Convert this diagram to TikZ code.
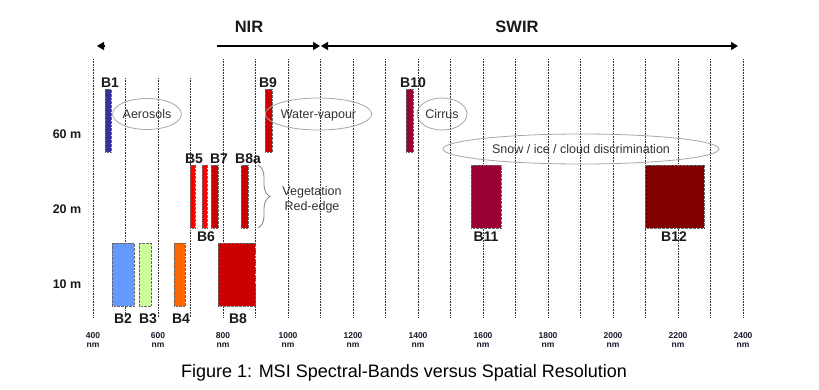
\documentclass[tikz,border=0pt]{standalone}
\usepackage{fontspec}
\setmainfont{Liberation Sans}
\usetikzlibrary{arrows.meta,shapes.geometric,decorations.pathreplacing}
\definecolor{navyb}{HTML}{333399}
\definecolor{blueb}{HTML}{6699FF}
\definecolor{greenb}{HTML}{CCFF99}
\definecolor{orangeb}{HTML}{FF6600}
\definecolor{redb}{HTML}{CC0000}
\definecolor{brightb}{HTML}{FF0000}
\definecolor{wineb}{HTML}{990033}
\definecolor{maroonb}{HTML}{800000}
\definecolor{inkb}{HTML}{1A1A2E}
\tikzset{sc/.style={x=1pt,y=-1pt,line width=.5pt},
  grid/.style={black!80,line width=.55pt,dash pattern=on .8pt off .8pt},
  band/.style={draw=black!60,line width=.35pt,densely dotted},
  lbl/.style={font=\bfseries\fontsize{14}{16}\selectfont,anchor=base,inner sep=0pt,text=black!90},
  zone/.style={draw=black!35,line width=.8pt,ellipse,inner sep=0pt,font=\fontsize{12.5}{15}\selectfont,text=black!80,text depth=0pt},
  tip/.style={line width=1.2pt,-{Triangle[length=7pt,width=8pt]}}}

\begin{document}
\begin{tikzpicture}[sc]
  \useasboundingbox (0,0) rectangle (819,389);
  % grid, one line each 100 nm
  \foreach \i in {0,4,5,...,20}{\draw[grid] (93+32.5*\i,59)--(93+32.5*\i,317);}
  \foreach \i in {1,2,3}{\draw[grid] (93+32.5*\i,78)--(93+32.5*\i,317);}
  \foreach \w [count=\k from 0] in {400,600,...,2400}{
    \node[anchor=base,inner sep=0pt,inkb,font=\bfseries\fontsize{8.5}{9}\selectfont] (tick\w) at (93+65*\k,338){\w};
    \node[anchor=base,inner sep=0pt,inkb,font=\bfseries\fontsize{8.5}{9}\selectfont] (unit\w) at (93+65*\k,347.5){nm};}
  % ranges
  \coordinate (vnirA) at (104,46);\coordinate (vnirB) at (97,46);
  \coordinate (nirA) at (217,46);\coordinate (nirB) at (320,46);
  \coordinate (swirA) at (321,46);\coordinate (swirB) at (738,46);
  \draw[tip] (vnirA)--(vnirB);
  \draw[tip] (nirA)--(nirB);
  \draw[tip,{Triangle[length=7pt,width=8pt]}-{Triangle[length=7pt,width=8pt]}] (swirA)--(swirB);
  \node[lbl,font=\bfseries\fontsize{16.5}{18}\selectfont] (nir) at (249,32){NIR};
  \node[lbl,font=\bfseries\fontsize{16.5}{18}\selectfont] (swir) at (517,32){SWIR};
  % resolutions
  \node[lbl,font=\bfseries\fontsize{12.5}{14}\selectfont] (r60) at (67,138){60 m};
  \node[lbl,font=\bfseries\fontsize{12.5}{14}\selectfont] (r20) at (67,213){20 m};
  \node[lbl,font=\bfseries\fontsize{12.5}{14}\selectfont] (r10) at (67,288){10 m};
  % bands
  \foreach \xa/\xb/\ya/\yb/\c in {105/111/89/152/navyb,265/272/89/152/redb,406/413/89/152/wineb,
      190/195/165/228/brightb,202/207/165/228/brightb,211/218/165/228/redb,241/248/165/228/redb,
      471/501/165/228/wineb,645/704/165/228/maroonb,
      112/134/243/306/blueb,139/151/243/306/greenb,174/185/243/306/orangeb,218/255/243/306/redb}{
    \filldraw[band,fill=\c] (\xa,\ya) rectangle (\xb,\yb);}
  \node[lbl] (b1) at (110,87){B1};
  \node[lbl] (b9) at (268,87){B9};
  \node[lbl] (b10) at (413,87){B10};
  \node[lbl] (b5) at (194,163){B5};
  \node[lbl] (b7) at (219,163){B7};
  \node[lbl] (b8a) at (248,163){B8a};
  \node[lbl] (b6) at (206,241){B6};
  \node[lbl] (b11) at (486,241){B11};
  \node[lbl] (b12) at (674,241){B12};
  \node[lbl] (b2) at (123,323){B2};
  \node[lbl] (b3) at (148,323){B3};
  \node[lbl] (b4) at (181,323){B4};
  \node[lbl] (b8) at (238,323){B8};
  % purposes
  \node[zone,minimum width=65pt,minimum height=31pt] (aero) at (147,114){Aerosols};
  \node[zone,minimum width=85pt,minimum height=32pt] (vapour) at (318.5,114){Water-vapour};
  \node[zone,minimum width=50pt,minimum height=32pt] (cirrus) at (442,114){Cirrus};
  \node[zone,minimum width=276pt,minimum height=30pt] (snow) at (581,149){Snow / ice / cloud discrimination};
  \coordinate (edgeA) at (258,165);\coordinate (edgeB) at (258,228);
  \draw[black!50,line width=.8pt,decorate,decoration={brace,amplitude=12pt}] (edgeA)--(edgeB);
  \node[anchor=base,inner sep=0pt,text=black!80,font=\fontsize{12.5}{15}\selectfont] (veg) at (312,195){Vegetation};
  \node[anchor=base,inner sep=0pt,text=black!80,font=\fontsize{12.5}{15}\selectfont] (redge) at (312,210){Red-edge};
  \node[anchor=base,inner sep=0pt,font=\fontsize{18}{21}\selectfont] (cap) at (404,377){Figure 1: MSI Spectral-Bands versus Spatial Resolution};
\end{tikzpicture}
\end{document}
